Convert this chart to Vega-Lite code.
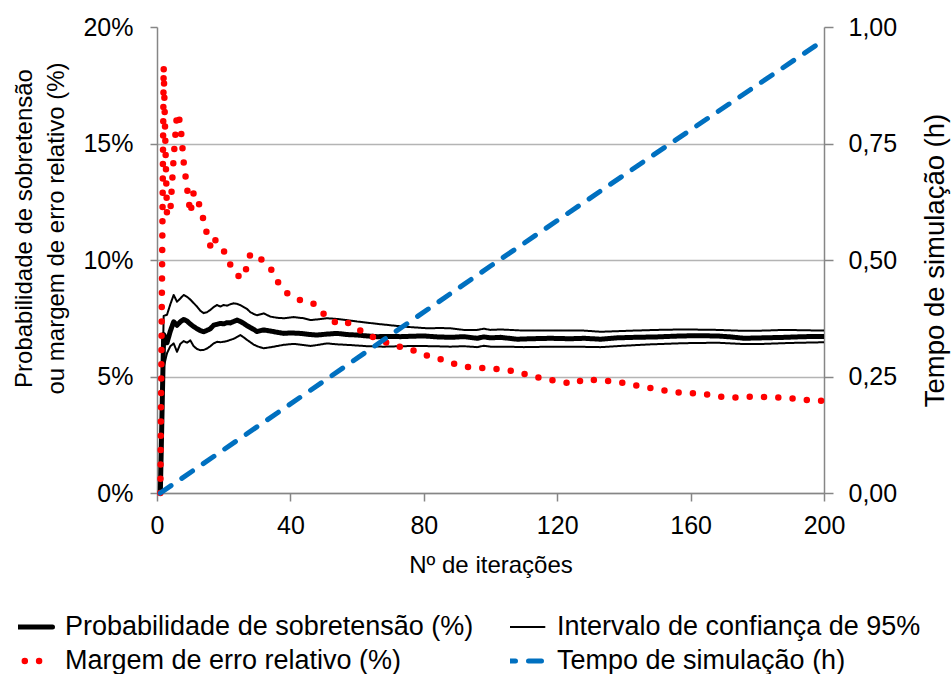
{
  "$schema": "https://vega.github.io/schema/vega-lite/v6.json",
  "width": 667,
  "height": 466,
  "autosize": {"type": "none"},
  "padding": {"left": 157, "top": 27, "right": 128, "bottom": 181},
  "background": "white",
  "config": {
    "font": "Liberation Sans",
    "view": {"stroke": null},
    "axis": {
      "labelFont": "Liberation Sans",
      "titleFont": "Liberation Sans",
      "domainColor": "#868686",
      "tickColor": "#868686",
      "domainWidth": 1.5,
      "tickWidth": 1.5,
      "labelColor": "#000000",
      "titleColor": "#000000",
      "titleFontWeight": "normal",
      "labelFontSize": 25,
      "titleFontSize": 24,
      "gridColor": "#b4b4b4",
      "gridWidth": 1.5
    }
  },
  "datasets": {
    "curvas": [
      {"n": 1, "v": 0, "s": "prob", "c": "p"},
      {"n": 2, "v": 6.8, "s": "prob", "c": "p"},
      {"n": 3, "v": 6.45, "s": "prob", "c": "p"},
      {"n": 4, "v": 6.95, "s": "prob", "c": "p"},
      {"n": 5, "v": 7.35, "s": "prob", "c": "p"},
      {"n": 6, "v": 7.2, "s": "prob", "c": "p"},
      {"n": 7, "v": 7.35, "s": "prob", "c": "p"},
      {"n": 8, "v": 7.45, "s": "prob", "c": "p"},
      {"n": 9, "v": 7.38, "s": "prob", "c": "p"},
      {"n": 10, "v": 7.25, "s": "prob", "c": "p"},
      {"n": 11, "v": 7.14, "s": "prob", "c": "p"},
      {"n": 12, "v": 7.05, "s": "prob", "c": "p"},
      {"n": 13, "v": 6.97, "s": "prob", "c": "p"},
      {"n": 14, "v": 6.92, "s": "prob", "c": "p"},
      {"n": 15, "v": 6.98, "s": "prob", "c": "p"},
      {"n": 16, "v": 7.05, "s": "prob", "c": "p"},
      {"n": 17, "v": 7.2, "s": "prob", "c": "p"},
      {"n": 18, "v": 7.24, "s": "prob", "c": "p"},
      {"n": 19, "v": 7.28, "s": "prob", "c": "p"},
      {"n": 20, "v": 7.26, "s": "prob", "c": "p"},
      {"n": 21, "v": 7.31, "s": "prob", "c": "p"},
      {"n": 22, "v": 7.3, "s": "prob", "c": "p"},
      {"n": 23, "v": 7.36, "s": "prob", "c": "p"},
      {"n": 24, "v": 7.42, "s": "prob", "c": "p"},
      {"n": 25, "v": 7.36, "s": "prob", "c": "p"},
      {"n": 26, "v": 7.28, "s": "prob", "c": "p"},
      {"n": 27, "v": 7.18, "s": "prob", "c": "p"},
      {"n": 28, "v": 7.1, "s": "prob", "c": "p"},
      {"n": 29, "v": 7.02, "s": "prob", "c": "p"},
      {"n": 30, "v": 6.93, "s": "prob", "c": "p"},
      {"n": 32, "v": 7.0, "s": "prob", "c": "p"},
      {"n": 34, "v": 6.95, "s": "prob", "c": "p"},
      {"n": 36, "v": 6.9, "s": "prob", "c": "p"},
      {"n": 38, "v": 6.85, "s": "prob", "c": "p"},
      {"n": 40, "v": 6.87, "s": "prob", "c": "p"},
      {"n": 43, "v": 6.85, "s": "prob", "c": "p"},
      {"n": 46, "v": 6.8, "s": "prob", "c": "p"},
      {"n": 48, "v": 6.78, "s": "prob", "c": "p"},
      {"n": 51, "v": 6.82, "s": "prob", "c": "p"},
      {"n": 54, "v": 6.85, "s": "prob", "c": "p"},
      {"n": 57, "v": 6.8, "s": "prob", "c": "p"},
      {"n": 60, "v": 6.78, "s": "prob", "c": "p"},
      {"n": 63, "v": 6.74, "s": "prob", "c": "p"},
      {"n": 66, "v": 6.71, "s": "prob", "c": "p"},
      {"n": 70, "v": 6.72, "s": "prob", "c": "p"},
      {"n": 73, "v": 6.71, "s": "prob", "c": "p"},
      {"n": 77, "v": 6.73, "s": "prob", "c": "p"},
      {"n": 80, "v": 6.74, "s": "prob", "c": "p"},
      {"n": 84, "v": 6.7, "s": "prob", "c": "p"},
      {"n": 88, "v": 6.68, "s": "prob", "c": "p"},
      {"n": 92, "v": 6.71, "s": "prob", "c": "p"},
      {"n": 96, "v": 6.64, "s": "prob", "c": "p"},
      {"n": 98, "v": 6.7, "s": "prob", "c": "p"},
      {"n": 100, "v": 6.66, "s": "prob", "c": "p"},
      {"n": 103, "v": 6.68, "s": "prob", "c": "p"},
      {"n": 108, "v": 6.6, "s": "prob", "c": "p"},
      {"n": 112, "v": 6.62, "s": "prob", "c": "p"},
      {"n": 118, "v": 6.64, "s": "prob", "c": "p"},
      {"n": 124, "v": 6.62, "s": "prob", "c": "p"},
      {"n": 128, "v": 6.64, "s": "prob", "c": "p"},
      {"n": 133, "v": 6.6, "s": "prob", "c": "p"},
      {"n": 138, "v": 6.66, "s": "prob", "c": "p"},
      {"n": 143, "v": 6.68, "s": "prob", "c": "p"},
      {"n": 150, "v": 6.7, "s": "prob", "c": "p"},
      {"n": 157, "v": 6.74, "s": "prob", "c": "p"},
      {"n": 162, "v": 6.75, "s": "prob", "c": "p"},
      {"n": 168, "v": 6.74, "s": "prob", "c": "p"},
      {"n": 172, "v": 6.7, "s": "prob", "c": "p"},
      {"n": 176, "v": 6.64, "s": "prob", "c": "p"},
      {"n": 182, "v": 6.66, "s": "prob", "c": "p"},
      {"n": 188, "v": 6.68, "s": "prob", "c": "p"},
      {"n": 194, "v": 6.71, "s": "prob", "c": "p"},
      {"n": 200, "v": 6.72, "s": "prob", "c": "p"},

      {"n": 1, "v": 0, "s": "ic", "c": "sup"},
      {"n": 2, "v": 7.6, "s": "ic", "c": "sup"},
      {"n": 3, "v": 7.65, "s": "ic", "c": "sup"},
      {"n": 4, "v": 8.1, "s": "ic", "c": "sup"},
      {"n": 5, "v": 8.5, "s": "ic", "c": "sup"},
      {"n": 6, "v": 8.21, "s": "ic", "c": "sup"},
      {"n": 7, "v": 8.35, "s": "ic", "c": "sup"},
      {"n": 8, "v": 8.5, "s": "ic", "c": "sup"},
      {"n": 9, "v": 8.42, "s": "ic", "c": "sup"},
      {"n": 10, "v": 8.3, "s": "ic", "c": "sup"},
      {"n": 11, "v": 8.15, "s": "ic", "c": "sup"},
      {"n": 12, "v": 8.0, "s": "ic", "c": "sup"},
      {"n": 13, "v": 7.82, "s": "ic", "c": "sup"},
      {"n": 14, "v": 7.72, "s": "ic", "c": "sup"},
      {"n": 15, "v": 7.76, "s": "ic", "c": "sup"},
      {"n": 16, "v": 7.86, "s": "ic", "c": "sup"},
      {"n": 17, "v": 7.98, "s": "ic", "c": "sup"},
      {"n": 18, "v": 8.07, "s": "ic", "c": "sup"},
      {"n": 19, "v": 8.0, "s": "ic", "c": "sup"},
      {"n": 20, "v": 8.07, "s": "ic", "c": "sup"},
      {"n": 21, "v": 8.04, "s": "ic", "c": "sup"},
      {"n": 22, "v": 8.1, "s": "ic", "c": "sup"},
      {"n": 23, "v": 8.14, "s": "ic", "c": "sup"},
      {"n": 24, "v": 8.12, "s": "ic", "c": "sup"},
      {"n": 25, "v": 8.06, "s": "ic", "c": "sup"},
      {"n": 26, "v": 7.98, "s": "ic", "c": "sup"},
      {"n": 27, "v": 7.9, "s": "ic", "c": "sup"},
      {"n": 28, "v": 7.76, "s": "ic", "c": "sup"},
      {"n": 29, "v": 7.68, "s": "ic", "c": "sup"},
      {"n": 30, "v": 7.63, "s": "ic", "c": "sup"},
      {"n": 32, "v": 7.71, "s": "ic", "c": "sup"},
      {"n": 34, "v": 7.57, "s": "ic", "c": "sup"},
      {"n": 36, "v": 7.52, "s": "ic", "c": "sup"},
      {"n": 38, "v": 7.5, "s": "ic", "c": "sup"},
      {"n": 41, "v": 7.55, "s": "ic", "c": "sup"},
      {"n": 44, "v": 7.5, "s": "ic", "c": "sup"},
      {"n": 46, "v": 7.42, "s": "ic", "c": "sup"},
      {"n": 48, "v": 7.45, "s": "ic", "c": "sup"},
      {"n": 51, "v": 7.5, "s": "ic", "c": "sup"},
      {"n": 54, "v": 7.47, "s": "ic", "c": "sup"},
      {"n": 57, "v": 7.42, "s": "ic", "c": "sup"},
      {"n": 60, "v": 7.36, "s": "ic", "c": "sup"},
      {"n": 63, "v": 7.31, "s": "ic", "c": "sup"},
      {"n": 66, "v": 7.26, "s": "ic", "c": "sup"},
      {"n": 70, "v": 7.2, "s": "ic", "c": "sup"},
      {"n": 74, "v": 7.14, "s": "ic", "c": "sup"},
      {"n": 78, "v": 7.1, "s": "ic", "c": "sup"},
      {"n": 81, "v": 7.07, "s": "ic", "c": "sup"},
      {"n": 85, "v": 7.08, "s": "ic", "c": "sup"},
      {"n": 88, "v": 7.07, "s": "ic", "c": "sup"},
      {"n": 92, "v": 7.0, "s": "ic", "c": "sup"},
      {"n": 96, "v": 7.0, "s": "ic", "c": "sup"},
      {"n": 98, "v": 7.05, "s": "ic", "c": "sup"},
      {"n": 100, "v": 7.0, "s": "ic", "c": "sup"},
      {"n": 103, "v": 7.02, "s": "ic", "c": "sup"},
      {"n": 110, "v": 6.97, "s": "ic", "c": "sup"},
      {"n": 118, "v": 6.97, "s": "ic", "c": "sup"},
      {"n": 128, "v": 6.97, "s": "ic", "c": "sup"},
      {"n": 133, "v": 6.92, "s": "ic", "c": "sup"},
      {"n": 143, "v": 6.97, "s": "ic", "c": "sup"},
      {"n": 150, "v": 7.0, "s": "ic", "c": "sup"},
      {"n": 158, "v": 7.02, "s": "ic", "c": "sup"},
      {"n": 168, "v": 7.0, "s": "ic", "c": "sup"},
      {"n": 176, "v": 6.96, "s": "ic", "c": "sup"},
      {"n": 182, "v": 6.97, "s": "ic", "c": "sup"},
      {"n": 188, "v": 7.0, "s": "ic", "c": "sup"},
      {"n": 200, "v": 6.97, "s": "ic", "c": "sup"},

      {"n": 1, "v": 0, "s": "ic", "c": "inf"},
      {"n": 2, "v": 5.4, "s": "ic", "c": "inf"},
      {"n": 3, "v": 6.0, "s": "ic", "c": "inf"},
      {"n": 4, "v": 6.3, "s": "ic", "c": "inf"},
      {"n": 5, "v": 6.42, "s": "ic", "c": "inf"},
      {"n": 6, "v": 6.06, "s": "ic", "c": "inf"},
      {"n": 7, "v": 6.4, "s": "ic", "c": "inf"},
      {"n": 8, "v": 6.52, "s": "ic", "c": "inf"},
      {"n": 9, "v": 6.45, "s": "ic", "c": "inf"},
      {"n": 10, "v": 6.55, "s": "ic", "c": "inf"},
      {"n": 11, "v": 6.3, "s": "ic", "c": "inf"},
      {"n": 12, "v": 6.18, "s": "ic", "c": "inf"},
      {"n": 13, "v": 6.13, "s": "ic", "c": "inf"},
      {"n": 14, "v": 6.14, "s": "ic", "c": "inf"},
      {"n": 15, "v": 6.2, "s": "ic", "c": "inf"},
      {"n": 16, "v": 6.3, "s": "ic", "c": "inf"},
      {"n": 17, "v": 6.42, "s": "ic", "c": "inf"},
      {"n": 18, "v": 6.49, "s": "ic", "c": "inf"},
      {"n": 19, "v": 6.47, "s": "ic", "c": "inf"},
      {"n": 20, "v": 6.49, "s": "ic", "c": "inf"},
      {"n": 21, "v": 6.52, "s": "ic", "c": "inf"},
      {"n": 22, "v": 6.57, "s": "ic", "c": "inf"},
      {"n": 23, "v": 6.62, "s": "ic", "c": "inf"},
      {"n": 24, "v": 6.7, "s": "ic", "c": "inf"},
      {"n": 25, "v": 6.78, "s": "ic", "c": "inf"},
      {"n": 26, "v": 6.68, "s": "ic", "c": "inf"},
      {"n": 27, "v": 6.57, "s": "ic", "c": "inf"},
      {"n": 28, "v": 6.47, "s": "ic", "c": "inf"},
      {"n": 29, "v": 6.37, "s": "ic", "c": "inf"},
      {"n": 30, "v": 6.3, "s": "ic", "c": "inf"},
      {"n": 32, "v": 6.21, "s": "ic", "c": "inf"},
      {"n": 35, "v": 6.28, "s": "ic", "c": "inf"},
      {"n": 38, "v": 6.36, "s": "ic", "c": "inf"},
      {"n": 41, "v": 6.4, "s": "ic", "c": "inf"},
      {"n": 44, "v": 6.35, "s": "ic", "c": "inf"},
      {"n": 46, "v": 6.31, "s": "ic", "c": "inf"},
      {"n": 48, "v": 6.35, "s": "ic", "c": "inf"},
      {"n": 51, "v": 6.42, "s": "ic", "c": "inf"},
      {"n": 54, "v": 6.38, "s": "ic", "c": "inf"},
      {"n": 58, "v": 6.35, "s": "ic", "c": "inf"},
      {"n": 63, "v": 6.3, "s": "ic", "c": "inf"},
      {"n": 68, "v": 6.28, "s": "ic", "c": "inf"},
      {"n": 73, "v": 6.3, "s": "ic", "c": "inf"},
      {"n": 78, "v": 6.31, "s": "ic", "c": "inf"},
      {"n": 83, "v": 6.3, "s": "ic", "c": "inf"},
      {"n": 88, "v": 6.28, "s": "ic", "c": "inf"},
      {"n": 92, "v": 6.3, "s": "ic", "c": "inf"},
      {"n": 96, "v": 6.26, "s": "ic", "c": "inf"},
      {"n": 98, "v": 6.32, "s": "ic", "c": "inf"},
      {"n": 100, "v": 6.28, "s": "ic", "c": "inf"},
      {"n": 105, "v": 6.28, "s": "ic", "c": "inf"},
      {"n": 110, "v": 6.26, "s": "ic", "c": "inf"},
      {"n": 118, "v": 6.28, "s": "ic", "c": "inf"},
      {"n": 125, "v": 6.28, "s": "ic", "c": "inf"},
      {"n": 133, "v": 6.26, "s": "ic", "c": "inf"},
      {"n": 140, "v": 6.32, "s": "ic", "c": "inf"},
      {"n": 148, "v": 6.38, "s": "ic", "c": "inf"},
      {"n": 158, "v": 6.43, "s": "ic", "c": "inf"},
      {"n": 168, "v": 6.45, "s": "ic", "c": "inf"},
      {"n": 175, "v": 6.4, "s": "ic", "c": "inf"},
      {"n": 182, "v": 6.4, "s": "ic", "c": "inf"},
      {"n": 190, "v": 6.44, "s": "ic", "c": "inf"},
      {"n": 200, "v": 6.47, "s": "ic", "c": "inf"}
    ],
    "erro": [
      {"n": 1, "v": 0, "s": "erro"},
      {"n": 2, "v": 18.3, "s": "erro"},
      {"n": 3, "v": 11.9, "s": "erro"},
      {"n": 4, "v": 12.1, "s": "erro"},
      {"n": 5, "v": 14.4, "s": "erro"},
      {"n": 6, "v": 16.3, "s": "erro"},
      {"n": 7, "v": 15.9, "s": "erro"},
      {"n": 8, "v": 14.2, "s": "erro"},
      {"n": 9, "v": 13.1, "s": "erro"},
      {"n": 10, "v": 12.0, "s": "erro"},
      {"n": 11, "v": 12.9, "s": "erro"},
      {"n": 12, "v": 12.7, "s": "erro"},
      {"n": 13, "v": 12.2, "s": "erro"},
      {"n": 14, "v": 11.7, "s": "erro"},
      {"n": 15, "v": 11.1, "s": "erro"},
      {"n": 16, "v": 10.6, "s": "erro"},
      {"n": 17, "v": 11.0, "s": "erro"},
      {"n": 18, "v": 10.7, "s": "erro"},
      {"n": 20, "v": 10.4, "s": "erro"},
      {"n": 22, "v": 9.8, "s": "erro"},
      {"n": 24, "v": 9.4, "s": "erro"},
      {"n": 25, "v": 9.2, "s": "erro"},
      {"n": 26, "v": 9.4, "s": "erro"},
      {"n": 27, "v": 9.7, "s": "erro"},
      {"n": 28, "v": 10.27, "s": "erro"},
      {"n": 31, "v": 10.06, "s": "erro"},
      {"n": 34, "v": 9.66, "s": "erro"},
      {"n": 36, "v": 9.1, "s": "erro"},
      {"n": 39, "v": 8.58, "s": "erro"},
      {"n": 42, "v": 8.34, "s": "erro"},
      {"n": 45, "v": 8.15, "s": "erro"},
      {"n": 47, "v": 8.12, "s": "erro"},
      {"n": 50, "v": 7.68, "s": "erro"},
      {"n": 53, "v": 7.33, "s": "erro"},
      {"n": 56, "v": 7.42, "s": "erro"},
      {"n": 60, "v": 7.05, "s": "erro"},
      {"n": 64, "v": 6.74, "s": "erro"},
      {"n": 67, "v": 6.54, "s": "erro"},
      {"n": 72, "v": 6.31, "s": "erro"},
      {"n": 76, "v": 6.17, "s": "erro"},
      {"n": 80, "v": 5.92, "s": "erro"},
      {"n": 83, "v": 5.85, "s": "erro"},
      {"n": 88, "v": 5.59, "s": "erro"},
      {"n": 92, "v": 5.42, "s": "erro"},
      {"n": 96, "v": 5.38, "s": "erro"},
      {"n": 100, "v": 5.35, "s": "erro"},
      {"n": 104, "v": 5.28, "s": "erro"},
      {"n": 108, "v": 5.21, "s": "erro"},
      {"n": 112, "v": 5.02, "s": "erro"},
      {"n": 117, "v": 4.88, "s": "erro"},
      {"n": 121, "v": 4.78, "s": "erro"},
      {"n": 125, "v": 4.68, "s": "erro"},
      {"n": 128, "v": 4.89, "s": "erro"},
      {"n": 133, "v": 4.82, "s": "erro"},
      {"n": 138, "v": 4.78, "s": "erro"},
      {"n": 142, "v": 4.66, "s": "erro"},
      {"n": 146, "v": 4.55, "s": "erro"},
      {"n": 151, "v": 4.43, "s": "erro"},
      {"n": 155, "v": 4.33, "s": "erro"},
      {"n": 159, "v": 4.29, "s": "erro"},
      {"n": 164, "v": 4.25, "s": "erro"},
      {"n": 168, "v": 4.15, "s": "erro"},
      {"n": 172, "v": 4.08, "s": "erro"},
      {"n": 176, "v": 4.13, "s": "erro"},
      {"n": 181, "v": 4.12, "s": "erro"},
      {"n": 185, "v": 4.11, "s": "erro"},
      {"n": 190, "v": 4.06, "s": "erro"},
      {"n": 194, "v": 4.0, "s": "erro"},
      {"n": 200, "v": 3.95, "s": "erro"}
    ],
    "tempo": [
      {"n": 1, "h": 0.0, "s": "tempo"},
      {"n": 50, "h": 0.24, "s": "tempo"},
      {"n": 100, "h": 0.487, "s": "tempo"},
      {"n": 150, "h": 0.731, "s": "tempo"},
      {"n": 200, "h": 0.972, "s": "tempo"}
    ]
  },
  "layer": [
    {
      "layer": [
        {
          "data": {"name": "curvas"},
          "transform": [{"filter": "datum.s == 'ic'"}],
          "mark": {"type": "line", "strokeJoin": "round", "strokeCap": "butt", "strokeWidth": 2},
          "encoding": {
            "x": {
              "field": "n", "type": "quantitative",
              "scale": {"domain": [0, 200], "nice": false, "zero": false},
              "axis": {
                "values": [0, 40, 80, 120, 160, 200],
                "title": "Nº de iterações",
                "titleY": 79,
                "titleBaseline": "alphabetic",
                "labelBaseline": "alphabetic",
                "labelPadding": 32,
                "tickSize": 8,
                "labelFlush": false,
                "grid": false
              }
            },
            "y": {
              "field": "v", "type": "quantitative",
              "scale": {"domain": [0, 20], "nice": false},
              "axis": {
                "values": [0, 5, 10, 15, 20],
                "labelExpr": "datum.value + '%'",
                "labelPadding": 17,
                "tickSize": 7,
                "grid": true,
                "gridOpacity": {"condition": {"test": "datum.value >= 20", "value": 0}, "value": 1},
                "title": ["Probabilidade de sobretensão", "ou margem de erro relativo (%)"],
                "titleAngle": 270,
                "titleAlign": "center",
                "titleBaseline": "alphabetic",
                "titleLineHeight": 32,
                "titleX": -126,
                "titleY": 201
              }
            },
            "color": {
              "field": "s", "type": "nominal",
              "scale": {"domain": ["prob", "ic", "erro", "tempo"], "range": ["#000000", "#000000", "#ff0000", "#0070c0"]},
              "legend": {
                "orient": "none",
                "legendX": -139,
                "legendY": 585,
                "title": null,
                "columns": 2,
                "direction": "horizontal",
                "symbolType": "stroke",
                "symbolSize": 1764,
                "clipHeight": 30,
                "rowPadding": 4,
                "columnPadding": 36,
                "padding": 0,
                "labelOffset": 20,
                "labelFontSize": 27,
                "labelColor": "#000000",
                "labelLimit": 1000,
                "labelExpr": "datum.value == 'prob' ? 'Probabilidade de sobretensão (%)' : datum.value == 'ic' ? 'Intervalo de confiança de 95%' : datum.value == 'erro' ? 'Margem de erro relativo (%)' : 'Tempo de simulação (h)'",
                "encode": {"symbols": {"update": {
                  "strokeCap": {"value": "round"},
                  "strokeWidth": {"signal": "datum.value == 'ic' ? 2 : datum.value == 'erro' ? 6.5 : 5"}
                }}}
              }
            },
            "strokeDash": {
              "field": "s", "type": "nominal",
              "scale": {"domain": ["prob", "ic", "erro", "tempo"], "range": [[1, 0], [1, 0], [0, 14.3], [13, 13]]}
            },
            "detail": {"field": "c", "type": "nominal"}
          }
        },
        {
          "data": {"name": "curvas"},
          "transform": [{"filter": "datum.s == 'prob'"}],
          "mark": {"type": "line", "strokeJoin": "round", "strokeCap": "butt", "strokeWidth": 5},
          "encoding": {
            "x": {"field": "n", "type": "quantitative"},
            "y": {"field": "v", "type": "quantitative"},
            "color": {"field": "s", "type": "nominal"},
            "strokeDash": {"field": "s", "type": "nominal"}
          }
        },
        {
          "data": {"name": "erro"},
          "mark": {"type": "line", "strokeCap": "round", "strokeJoin": "round", "strokeWidth": 6.5},
          "encoding": {
            "x": {"field": "n", "type": "quantitative"},
            "y": {"field": "v", "type": "quantitative"},
            "color": {"field": "s", "type": "nominal"},
            "strokeDash": {"field": "s", "type": "nominal"}
          }
        }
      ]
    },
    {
      "data": {"name": "tempo"},
      "mark": {"type": "line", "strokeCap": "round", "strokeJoin": "round", "strokeWidth": 5},
      "encoding": {
        "x": {"field": "n", "type": "quantitative"},
        "y": {
          "field": "h", "type": "quantitative",
          "scale": {"domain": [0, 1], "nice": false},
          "axis": {
            "orient": "right",
            "values": [0, 0.25, 0.5, 0.75, 1],
            "labelExpr": "replace(format(datum.value, '.2f'), '.', ',')",
            "labelPadding": 15,
            "tickSize": 9,
            "grid": false,
            "title": "Tempo de simulação (h)",
            "titleFontSize": 27.5,
            "titleAngle": 270,
            "titleAlign": "center",
            "titleBaseline": "alphabetic",
            "titleX": 119,
            "titleY": 233
          }
        },
        "color": {"field": "s", "type": "nominal"},
        "strokeDash": {"field": "s", "type": "nominal"}
      }
    }
  ],
  "resolve": {"scale": {"y": "independent"}}
}
